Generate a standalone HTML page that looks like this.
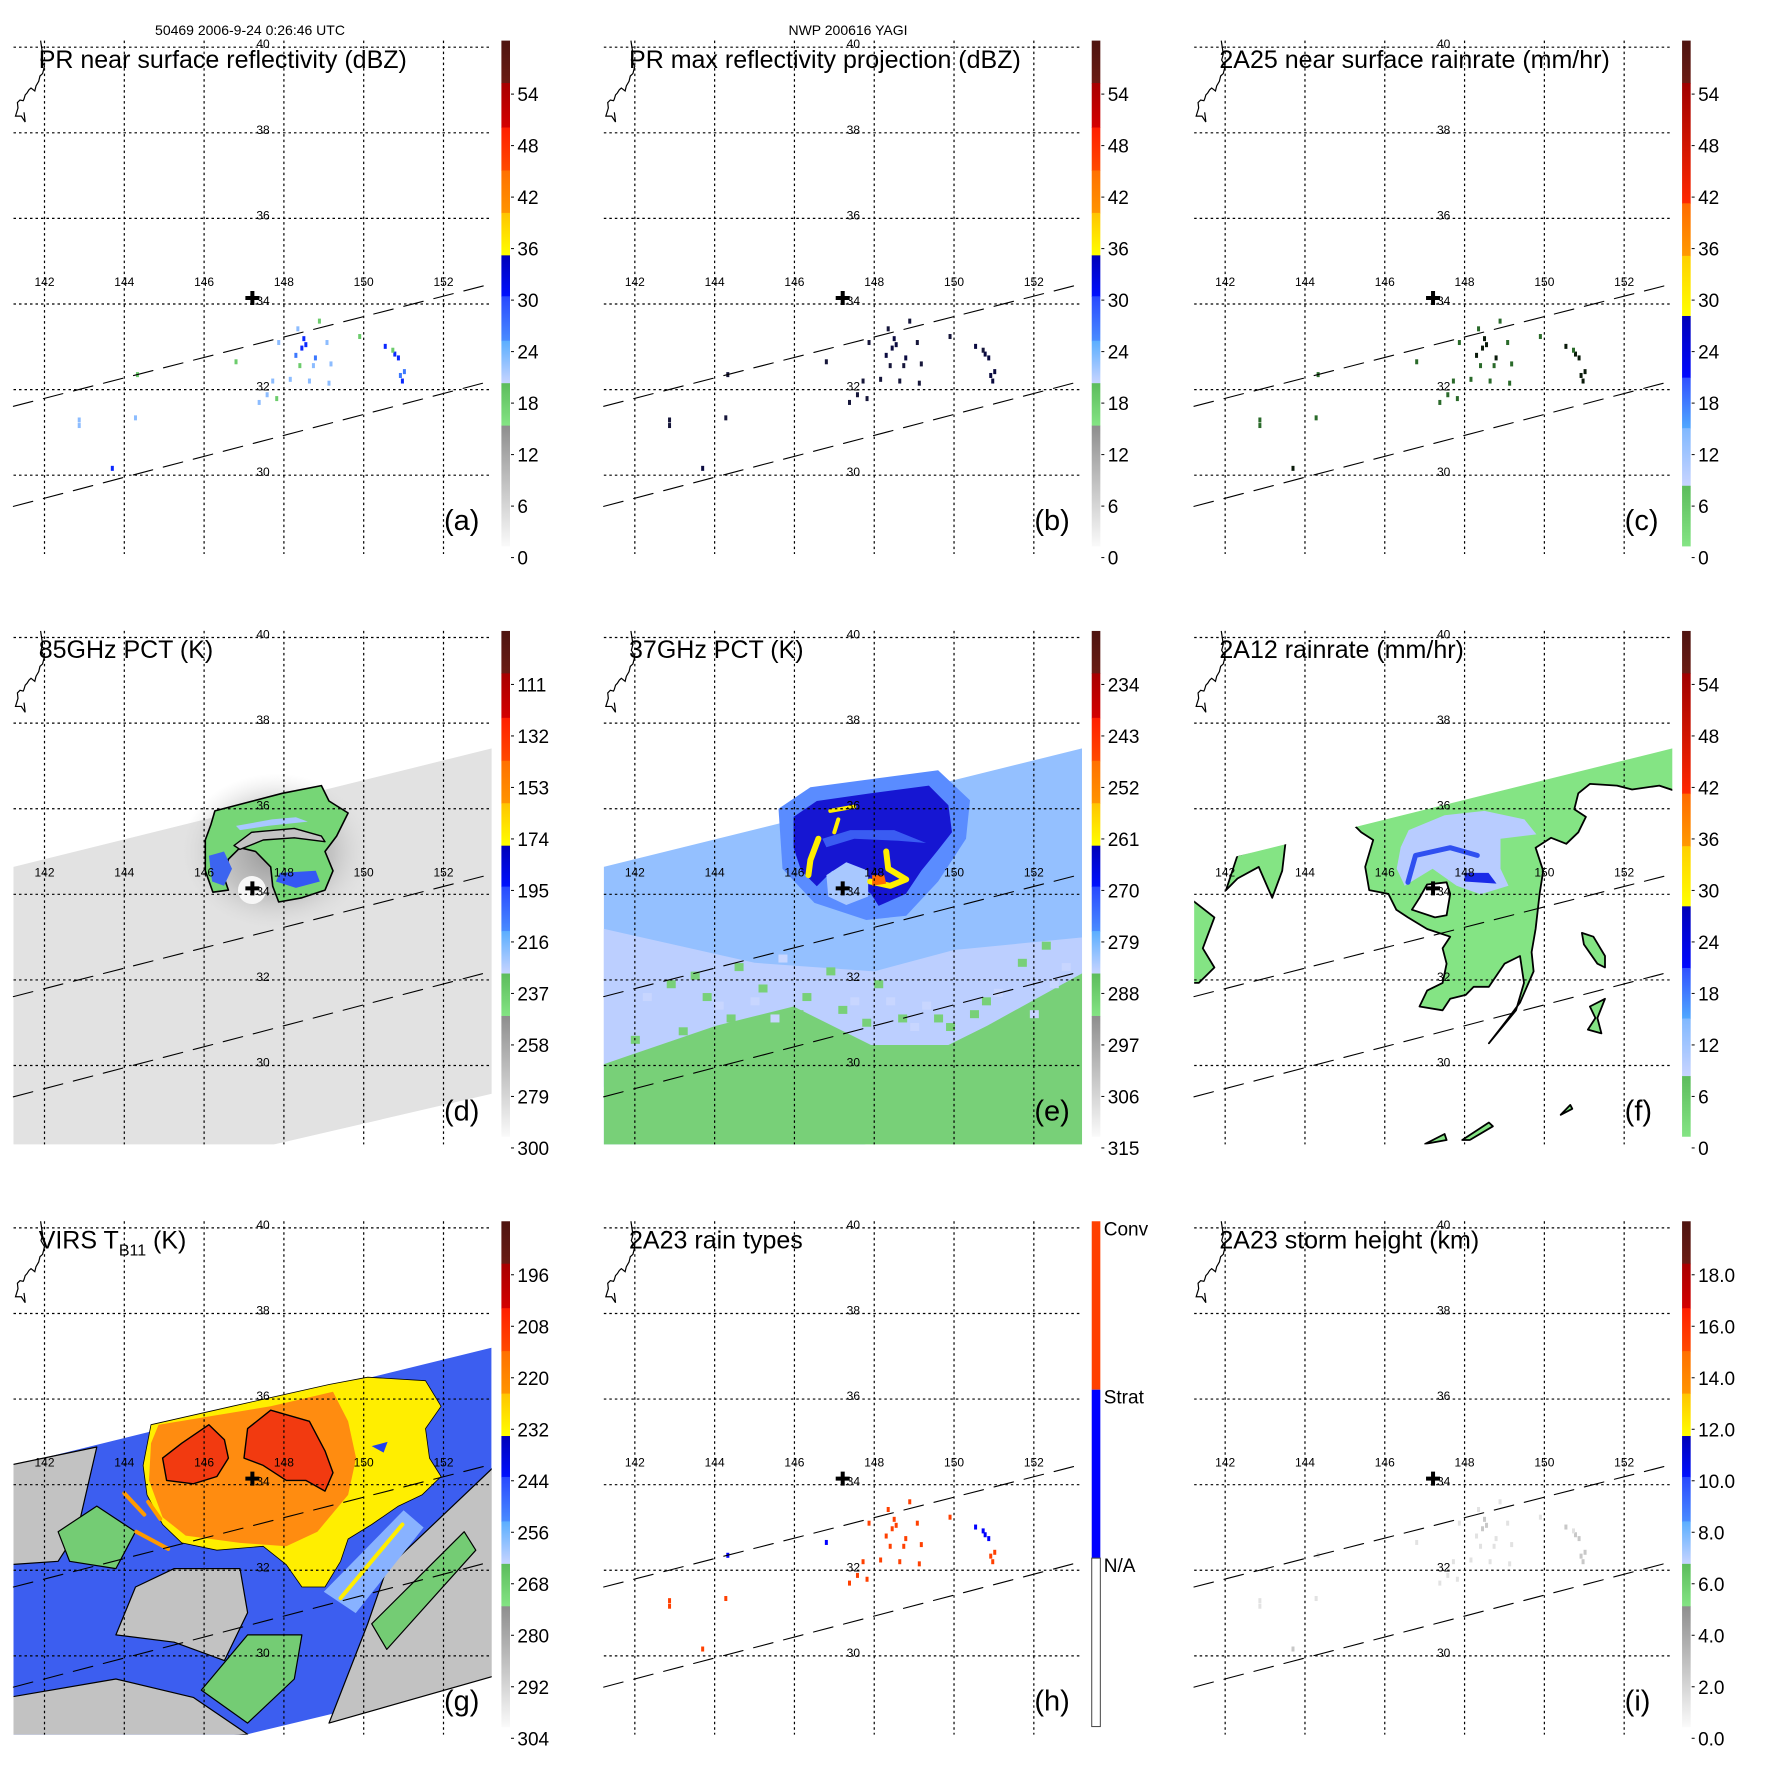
<!DOCTYPE html>
<html><head><meta charset="utf-8"><title>TRMM YAGI 2006-9-24</title>
<style>html,body{margin:0;padding:0;background:#fff}svg{display:block}text{font-family:"Liberation Sans",Arial,sans-serif}</style>
</head><body>
<svg id="fig" xmlns="http://www.w3.org/2000/svg" width="1771" height="1771" viewBox="0 0 1771 1771">
<defs>
<radialGradient id="halo" cx="0.5" cy="0.5" r="0.5"><stop offset="0" stop-color="#8a8a8a" stop-opacity="0.9"/><stop offset="0.6" stop-color="#b0b0b0" stop-opacity="0.6"/><stop offset="1" stop-color="#d8d8d8" stop-opacity="0"/></radialGradient>
</defs>
<text x="250" y="35" font-size="14" text-anchor="middle">50469 2006-9-24 0:26:46 UTC</text>
<text x="848" y="35" font-size="14" text-anchor="middle">NWP 200616 YAGI</text>
</svg>
<script>
// ---------- data ----------
const lonTicks=[142,144,146,148,150,152];
const latTicks=[40,38,36,34,32,30];
const centerLon=147.21, centerLat=34.14;
const prEdgeUpper=[[141.22,31.61],[153.07,34.44]];
const prEdgeLower=[[141.22,29.27],[153.07,32.17]];
const cbLabels_a=["54","48","42","36","30","24","18","12","6","0"];
const cbLabels_b=["54","48","42","36","30","24","18","12","6","0"];
const cbLabels_c=["54","48","42","36","30","24","18","12","6","0"];
const cbLabels_d=["111","132","153","174","195","216","237","258","279","300"];
const cbLabels_e=["234","243","252","261","270","279","288","297","306","315"];
const cbLabels_f=["54","48","42","36","30","24","18","12","6","0"];
const cbLabels_g=["196","208","220","232","244","256","268","280","292","304"];
const cbLabels_h=["Conv","Strat","N/A"];
const cbLabels_i=["18.0","16.0","14.0","12.0","10.0","8.0","6.0","4.0","2.0","0.0"];
const titles=["PR near surface reflectivity (dBZ)","PR max reflectivity projection (dBZ)","2A25 near surface rainrate (mm/hr)","85GHz PCT (K)","37GHz PCT (K)","2A12 rainrate (mm/hr)","VIRS T","2A23 rain types","2A23 storm height (km)"];
const letters=["(a)","(b)","(c)","(d)","(e)","(f)","(g)","(h)","(i)"];
// PR pixels
const rainLon=[148.35,148.50,148.45,147.87,148.79,148.74,148.64,148.16,149.08,149.13,150.54,150.78,150.87,150.92,151.02,150.97,142.87,142.87,144.28,143.70,147.58,147.38,147.72,149.18,148.89,149.90,146.80,144.33,148.40,147.82,150.73,148.55,148.30];
const rainLat=[33.42,33.19,32.97,33.10,32.74,32.56,32.20,32.24,33.10,32.15,33.01,32.83,32.74,32.33,32.42,32.20,31.29,31.16,31.34,30.16,31.88,31.70,32.20,32.60,33.60,33.24,32.65,32.35,32.56,31.79,32.92,33.05,32.80];
const rainDbz=[23,31,31,22,26,25,24,23,22,21,31,30,30,28,28,31,24,24,22,31,21,22,22,22,18,18,18,18,18,18,18,30,26];
const rainType=[1,1,1,1,1,1,1,1,1,1,2,2,2,1,1,1,1,1,1,1,1,1,1,1,1,1,2,2,1,1,2,1,1];
// swaths
const pmiSwath=[[141.22,34.64],[153.21,37.41],[153.21,29.34],[147.68,28.14],[141.22,27.6]];
const virsSwath=[[141.22,34.45],[153.2,37.2],[153.2,29.54],[147.09,28.17],[141.22,27.6]];
// panel d (85GHz)
const d_green=[[146.27,35.95],[147.96,36.36],[148.94,36.54],[149.13,36.18],[149.61,35.90],[149.32,35.36],[149.03,35.00],[149.23,34.55],[149.03,34.10],[148.45,33.92],[147.87,33.82],[147.72,34.19],[147.67,34.64],[147.29,35.00],[146.90,35.09],[146.61,34.82],[146.51,34.37],[146.61,34.10],[146.22,34.05],[146.03,34.55],[146.03,35.27],[146.17,35.63]];
const d_gap=[[146.75,35.14],[147.19,35.45],[148.26,35.54],[148.94,35.36],[149.03,35.23],[148.26,35.32],[147.48,35.27],[146.90,35.05]];
const d_blueL=[[146.12,34.9],[146.5,35.0],[146.7,34.6],[146.5,34.2],[146.2,34.3]];
const d_blueR=[[147.9,34.5],[148.8,34.55],[148.9,34.3],[148.3,34.15],[147.8,34.3]];
const d_lblue=[[146.8,35.6],[147.7,35.75],[148.3,35.8],[148.6,35.7],[147.6,35.6],[146.9,35.5]];
// panel e (37GHz)
const e_lav=[[141.2,33.2],[145,32.4],[148,32.2],[150,32.7],[153.3,33.0],[153.3,30.5],[141.2,29.5]];
const e_green=[[141.22,30.03],[144.04,30.93],[145.98,31.38],[147.92,30.48],[149.86,30.48],[150.83,30.93],[153.3,32.2],[153.3,27],[141.22,27]];
const e_mid=[[145.6,36.0],[146.4,36.5],[149.6,36.9],[150.4,36.2],[150.3,35.3],[149.6,34.3],[148.8,33.5],[147.8,33.4],[146.5,33.8],[145.7,34.6]];
const e_dark=[[145.98,35.81],[146.56,36.18],[147.92,36.36],[149.37,36.54],[149.86,36.08],[149.95,35.45],[149.57,35.00],[149.18,34.55],[148.79,34.01],[148.11,33.73],[147.92,34.01],[147.43,34.37],[146.95,34.55],[146.56,34.19],[146.17,34.55],[145.98,35.09]];
const e_band=[[146.7,35.3],[147.4,35.5],[148.5,35.5],[149.3,35.2],[148.6,35.25],[147.5,35.3],[146.8,35.1]];
const e_eye=[[146.8,34.45],[147.3,34.75],[147.85,34.55],[147.85,33.95],[147.3,33.75],[146.85,33.95]];
const e_yel1=[[146.6,35.3],[146.4,34.8],[146.35,34.45]];
const e_yel2=[[148.3,35.0],[148.35,34.6],[148.8,34.35],[148.4,34.2],[147.9,34.3]];
const e_yel3=[[146.9,35.95],[147.5,36.05]];
const e_yel4=[[147.1,35.75],[147.0,35.45]];
const e_hot=[[147.95,34.45],[148.25,34.45],[148.3,34.25],[147.95,34.2]];
const e_speckLon=[142.3,142.9,143.5,144.1,144.6,145.2,145.7,146.3,146.9,147.5,148.1,148.7,149.3,149.9,150.5,151.1,151.7,152.3,152.8,143.2,144.4,145.5,146.6,147.8,149.0,150.2,151.4,152.5,142.0,143.8,145.0,146.1,147.2,148.4,149.6,150.8,152.0];
const e_speckLat=[31.6,31.9,32.1,31.4,32.3,31.8,32.5,31.6,32.2,31.5,31.9,31.1,31.4,30.9,31.2,31.7,32.4,32.8,32.3,30.8,31.1,31.1,30.9,31.0,30.9,30.3,30.7,31.9,30.6,31.6,31.5,31.2,31.3,31.5,31.1,31.5,31.2];
// panel f (2A12)
const f_main=[[146.19,36.9],[153.46,37.71],[153.46,36.36],[152.88,36.54],[152.20,36.45],[151.82,36.54],[151.14,36.58],[150.85,36.36],[150.75,35.99],[151.04,35.81],[150.85,35.45],[150.55,35.18],[150.17,35.32],[149.78,35.09],[149.97,34.55],[149.88,34.01],[149.78,33.19],[149.68,32.65],[149.73,32.20],[149.39,31.47],[149.10,31.11],[148.61,30.52],[149.29,31.29],[149.49,31.93],[149.39,32.56],[149.00,32.38],[148.61,31.84],[148.23,31.84],[148.03,31.65],[147.64,31.56],[147.45,31.29],[146.87,31.38],[147.06,31.75],[147.45,31.93],[147.55,32.38],[147.45,32.74],[147.64,33.01],[147.06,33.19],[146.58,33.46],[146.29,33.64],[146.09,34.01],[145.61,34.10],[145.51,34.64],[145.71,35.27],[145.41,35.45],[145.22,35.63],[145.71,35.81],[146.00,35.95]];
const f_eye=[[147.06,34.23],[147.55,34.28],[147.64,34.01],[147.55,33.51],[147.26,33.46],[146.68,33.64],[146.87,33.92]];
const f_blobs=[
 [[142.31,34.91],[142.99,35.09],[143.52,35.27],[143.43,34.55],[143.18,33.92],[142.84,34.64],[142.31,34.37],[142.02,34.10]],
 [[141.1,33.92],[141.73,33.46],[141.44,32.74],[141.73,32.29],[141.34,31.93],[141.1,31.93]],
 [[150.94,33.10],[151.23,33.01],[151.52,32.56],[151.52,32.29],[151.33,32.38],[150.99,32.83]],
 [[151.14,31.38],[151.52,31.56],[151.33,31.11],[151.43,30.75],[151.09,30.84],[151.28,31.11]],
 [[147.94,28.26],[148.61,28.67],[148.71,28.58],[148.13,28.26]],
 [[147.01,28.17],[147.50,28.40],[147.55,28.26]],
 [[150.41,28.85],[150.65,29.08],[150.70,28.99]]];
const f_lblue=[[146.6,35.5],[147.5,35.85],[148.5,35.95],[149.5,35.75],[149.8,35.4],[148.9,35.3],[148.9,34.6],[149.1,34.2],[148.4,34.0],[147.8,34.2],[147.2,34.6],[146.5,34.2],[146.3,34.6],[146.4,35.1]];
const f_blueArc=[[146.58,34.28],[146.77,34.91],[147.64,35.09],[148.32,34.91]];
const f_dark=[[148.0,34.5],[148.6,34.5],[148.8,34.25],[148.0,34.3]];
// panel g (VIRS)
const g_greyW=[[141.1,34.45],[143.31,34.88],[142.82,32.90],[142.34,32.21],[141.1,32.13]];
const g_greyC=[[145.25,32.04],[146.90,32.04],[147.09,31.01],[146.51,29.89],[145.25,30.32],[143.79,30.49],[144.28,31.61]];
const g_greyB=[[141.1,29.03],[143.79,29.46],[145.73,29.03],[147.09,28.17],[141.1,27.6]];
const g_greySE=[[150.58,32.04],[153.3,34.45],[153.3,29.54],[149.13,28.43],[150.10,30.75]];
const g_green1=[[145.93,29.20],[147.09,30.49],[148.45,30.49],[148.26,29.46],[147.09,28.43]];
const g_green2=[[142.34,32.90],[143.31,33.50],[144.28,32.90],[143.79,32.04],[142.63,32.21]];
const g_green3=[[150.20,30.75],[152.52,32.90],[152.81,32.47],[150.58,30.15]];
const g_lblue=[[149.0,31.5],[151.0,33.4],[151.5,33.0],[149.8,31.0]];
const g_yellow=[[144.67,35.40],[146.70,35.83],[149.13,36.34],[150.10,36.51],[151.55,36.43],[151.94,35.83],[151.55,35.31],[151.65,34.62],[151.94,34.19],[151.46,33.76],[150.87,33.50],[150.20,33.07],[149.61,32.73],[149.42,32.21],[149.03,31.61],[148.45,31.61],[148.06,32.13],[147.48,32.56],[146.32,32.47],[145.44,32.64],[144.96,33.07],[144.57,33.76],[144.47,34.45]];
const g_orange=[[144.86,35.40],[147.67,35.83],[149.23,36.17],[149.61,35.48],[149.81,34.62],[149.61,33.76],[148.84,32.90],[148.06,32.56],[146.90,32.64],[145.54,32.81],[144.96,33.24],[144.62,34.10],[144.67,34.97]];
const g_redL=[[144.96,34.62],[145.44,34.97],[146.12,35.40],[146.51,35.05],[146.61,34.62],[146.32,34.19],[145.73,34.02],[145.06,34.10]];
const g_redR=[[147.09,35.31],[147.67,35.74],[148.64,35.48],[149.03,34.79],[149.23,34.28],[149.03,33.85],[148.55,34.10],[148.06,34.10],[147.48,34.45],[147.00,34.62]];
const g_streaks=[[[144.0,33.8],[144.5,33.3]],[[144.3,32.9],[145.1,32.5]],[[144.6,33.6],[144.9,33.2]],[[150.97,33.07],[149.42,31.35]]];
const g_hole=[[150.2,34.9],[150.6,35.0],[150.5,34.75]];
// colour bar bands
const bandsA=[["#4e1410","#6a1c14",0,.084],["#a80000","#d40000",.084,.172],["#ff1e00","#ff4a00",.172,.257],["#ff7000","#ff9400",.257,.341],["#ffc400","#ffff00",.341,.425],["#0000b8","#0010ff",.425,.506],["#2848ff","#4a8cff",.506,.594],["#5aaeff","#c8d4ff",.594,.678],["#5cbc5c","#84e484",.678,.762],["#8e8e8e","#fafafa",.762,1]];
const bandsC=[["#4e1410","#6a1c14",0,.084],["#a00000","#ff2800",.084,.322],["#ff6a00","#ff9a00",.322,.426],["#ffd000","#ffff00",.426,.545],["#0000b8","#0008ff",.545,.667],["#3050ff","#50a8ff",.667,.767],["#80b8ff","#c8d4ff",.767,.881],["#5cbc5c","#84e484",.881,1]];

// ---------- helpers ----------
const NS="http://www.w3.org/2000/svg";
const svg=document.getElementById('fig');
const P=1771/3;
function X(c,lon){return c*P+44.5+(lon-142)*39.9;}
function Y(r,lat){return r*P+47.2+(40-lat)*42.8;}
function mk(tag,attrs,parent){const e=document.createElementNS(NS,tag);for(const k in attrs)e.setAttribute(k,attrs[k]);(parent||svg).appendChild(e);return e;}
function ptsStr(c,r,arr){return arr.map(p=>X(c,p[0]).toFixed(1)+","+Y(r,p[1]).toFixed(1)).join(" ");}
function poly(g,c,r,arr,fill,stroke,sw,name){const e=mk('polygon',{points:ptsStr(c,r,arr),fill:fill,stroke:stroke||'none','stroke-width':sw||0,'stroke-linejoin':'round'},g);

return e;}
function line(g,c,r,arr,stroke,sw,name,dash){const e=mk('polyline',{points:ptsStr(c,r,arr),fill:'none',stroke:stroke,'stroke-width':sw,'stroke-linecap':'round','stroke-linejoin':'round'},g);if(dash)e.setAttribute('stroke-dasharray',dash);

return e;}
function dbzColor(v){if(v>=30)return"#0a28ff";if(v>=26)return"#3c78ff";if(v>=21)return"#8cbcff";return"#6ccc6c";}

const panelIds="abcdefghi";
const bands={a:bandsA,b:bandsA,c:bandsC,d:bandsA,e:bandsA,f:bandsC,g:bandsA,i:bandsA};
const labelsBy={a:cbLabels_a,b:cbLabels_b,c:cbLabels_c,d:cbLabels_d,e:cbLabels_e,f:cbLabels_f,g:cbLabels_g,i:cbLabels_i};

for(let k=0;k<9;k++){
 const c=k%3, r=Math.floor(k/3), id=panelIds[k];
 const ox=c*P, oy=r*P;
 const g=mk('g',{});
 
 
 const cp=mk('clipPath',{id:'clip'+id},svg);
 mk('rect',{x:ox+13.5,y:oy+40.6,width:478.2,height:513.4},cp);
 const map=mk('g',{'clip-path':'url(#clip'+id+')'},g);
 
 

 if(id==='d'){
  poly(map,c,r,pmiSwath,'#e2e2e2','none',0,'swath-85ghz');
  const h=mk('ellipse',{cx:X(c,147.8),cy:Y(r,35.0),rx:95,ry:78,fill:'url(#halo)'},map);
  
  
  poly(map,c,r,d_green,'#76d676','#000',1.6,'green-rainband');
  poly(map,c,r,d_gap,'#c4c4c4','#000',1.4,'contour-gap');
  poly(map,c,r,d_lblue,'#a8c8ff','none',0,'light-blue-patch');
  poly(map,c,r,d_blueL,'#3c64f0','none',0,'blue-patch-west');
  poly(map,c,r,d_blueR,'#3458f4','none',0,'blue-patch-east');
  const ey=mk('circle',{cx:X(c,147.2),cy:Y(r,34.1),r:14,fill:'#f6f6f6'},map);
  
  
 }
 if(id==='e'){
  poly(map,c,r,pmiSwath,'#94c0ff','none',0,'swath-37ghz');
  poly(map,c,r,e_lav,'#bccfff','none',0,'lavender-band');
  poly(map,c,r,e_green,'#78d078','none',0,'green-warm-area');
  for(let i=0;i<e_speckLon.length;i++){
   const s=mk('rect',{x:X(c,e_speckLon[i])-4,y:Y(r,e_speckLat[i])-4,width:9,height:8,fill:(i%3===0?'#c8d6ff':'#78d078')},map);
   
   
  }
  poly(map,c,r,e_mid,'#5a8cff','none',0,'mid-blue-ring');
  poly(map,c,r,e_dark,'#1616d2','none',0,'dark-blue-core');
  poly(map,c,r,e_band,'#3a5cf2','none',0,'inner-band');
  poly(map,c,r,e_eye,'#a8c8ff','none',0,'eye-area');
  line(map,c,r,e_yel1,'#ffee00',6,'yellow-arc-west');
  line(map,c,r,e_yel2,'#ffee00',6,'yellow-arc-east');
  line(map,c,r,e_yel3,'#ffee00',4,'yellow-bit-1');
  line(map,c,r,e_yel4,'#ffee00',4,'yellow-bit-2');
  poly(map,c,r,e_hot,'#ff6a00','none',0,'orange-core');
 }
 if(id==='f'){
  const cpf=mk('clipPath',{id:'swf'},svg);
  mk('polygon',{points:ptsStr(c,r,pmiSwath)},cpf);
  const sg=mk('g',{'clip-path':'url(#swf)'},map);
  
  
  poly(sg,c,r,f_main,'#84e484','#000',1.8,'rain-area-main');
  poly(sg,c,r,f_lblue,'#b8ccff','none',0,'light-rain-blue');
  line(sg,c,r,f_blueArc,'#3050f0',5,'blue-arc');
  poly(sg,c,r,f_dark,'#1a2ae8','none',0,'heavy-rain');
  poly(sg,c,r,f_eye,'#ffffff','#000',1.8,'eye-hole');
  f_blobs.forEach((b,i)=>poly(sg,c,r,b,'#84e484','#000',1.8,'rain-blob-'+i));
 }
 if(id==='g'){
  poly(map,c,r,virsSwath,'#3c5ef0','none',0,'swath-virs');
  [g_greyW,g_greyC,g_greyB,g_greySE].forEach((p,i)=>poly(map,c,r,p,'#c2c2c2','#000',1.2,'clear-area-'+i));
  [g_green1,g_green2,g_green3].forEach((p,i)=>poly(map,c,r,p,'#74cc74','#000',1.2,'green-cloud-'+i));
  poly(map,c,r,g_lblue,'#88b2ff','none',0,'light-blue-cloud');
  poly(map,c,r,g_yellow,'#ffee00','#000',0.8,'cloud-shield-yellow');
  poly(map,c,r,g_orange,'#ff8c10','none',0,'cloud-shield-orange');
  poly(map,c,r,g_redL,'#f23a10','#000',1.4,'cold-top-west');
  poly(map,c,r,g_redR,'#f23a10','#000',1.4,'cold-top-east');
  poly(map,c,r,g_hole,'#2040f0','none',0,'warm-hole');
  g_streaks.forEach((s,i)=>line(map,c,r,s,i<3?'#ff9a00':'#ffee00',4,'streak-'+i));
 }
 if('abchi'.includes(id)){
  for(let i=0;i<rainLon.length;i++){
   let col;
   if(id==='a')col=dbzColor(rainDbz[i]);
   else if(id==='b')col=rainDbz[i]>=26?'#0a0a40':'#16163a';
   else if(id==='c')col=rainDbz[i]>=26?'#0a1a0a':'#2a6a2a';
   else if(id==='h')col=rainType[i]===2?'#0000ff':'#ff4000';
   else col=rainDbz[i]>=28?'#c8c8c8':'#e2e2e2';
   const p=mk('rect',{x:X(c,rainLon[i])-1.5,y:Y(r,rainLat[i])-2.5,width:3,height:5,fill:col},map);
   
   
  }
 }
 lonTicks.forEach(lon=>{const e=mk('line',{x1:X(c,lon),y1:oy+40.6,x2:X(c,lon),y2:oy+554,stroke:'#000','stroke-width':1.2,'stroke-dasharray':'2.5 3'},g);
  
  
  const t=mk('text',{x:X(c,lon),y:oy+286,'font-size':12,'text-anchor':'middle'},g);t.textContent=lon;
  
  });
 latTicks.forEach(lat=>{const e=mk('line',{x1:ox+13.5,y1:Y(r,lat),x2:ox+491.7,y2:Y(r,lat),stroke:'#000','stroke-width':1.2,'stroke-dasharray':'2.5 3'},g);
  
  
  const t=mk('text',{x:ox+263,y:Y(r,lat)+1,'font-size':12,'text-anchor':'middle'},g);t.textContent=lat;
  
  });
 line(g,c,r,prEdgeUpper,'#000',1.1,'pr-swath-edge-upper','20 11');
 line(g,c,r,prEdgeLower,'#000',1.1,'pr-swath-edge-lower','20 11');
 const cl=[[40.6,40.6],[42.6,54],[41,60],[44.5,66],[42.6,73.6],[40,76],[38.7,81.3],[36,86],[34.8,91],[31,88],[29,89.8],[27,93],[25.2,94.9],[24,99],[23.2,100.7],[20,100],[17.4,102.6],[18,108],[15.5,116.1],[21.3,116.1],[25.2,122],[24,112.3]];
 const cpth=mk('polyline',{points:cl.map(p=>(ox+p[0])+','+(oy+p[1])).join(' '),fill:'none',stroke:'#000','stroke-width':1.2},g);
 
 
 const cx=X(c,centerLon), cy=Y(r,centerLat);
 const cr=mk('path',{d:`M${cx-7},${cy-2}h14v4h-14zM${cx-2},${cy-7}h4v14h-4z`,fill:'#000'},g);
 
 
 const tt=mk('text',{x:ox+38.7,y:oy+67.8,'font-size':25},g);
 
 
 if(id==='g'){tt.textContent=titles[k];const ts=mk('tspan',{'font-size':16,dy:7},tt);ts.textContent='B11';const t2=mk('tspan',{dy:-7,'font-size':25},tt);t2.textContent=' (K)';}
 else tt.textContent=titles[k];
 const lt=mk('text',{x:ox+444,y:oy+530,'font-size':29},g);lt.textContent=letters[k];
 
 
 const bx=ox+501.4, by=oy+40.6, bw=8.6, bh=505.3;
 const cb=mk('g',{},g);
 
 
 if(id==='h'){
  const cols=['#ff4000','#0000ff','#ffffff'];
  cols.forEach((cc,i)=>{const e=mk('rect',{x:bx,y:by+i*bh/3,width:bw,height:bh/3,fill:cc,stroke:i===2?'#444':'none','stroke-width':1},cb);
   
   });
  cbLabels_h.forEach((s,i)=>{const t=mk('text',{x:bx+12,y:by+i*bh/3+14,'font-size':19},cb);t.textContent=s;
   
   });
 } else {
  bands[id].forEach((b,i)=>{
   const gid='gr'+id+i;
   const lg=mk('linearGradient',{id:gid,x1:0,y1:0,x2:0,y2:1},svg);
   mk('stop',{offset:0,'stop-color':b[0]},lg);mk('stop',{offset:1,'stop-color':b[1]},lg);
   const e=mk('rect',{x:bx,y:by+b[2]*bh,width:bw,height:(b[3]-b[2])*bh+0.5,fill:'url(#'+gid+')'},cb);
   
   
  });
  labelsBy[id].forEach((s,i)=>{
   const yy=oy+94.1+i*51.5;
   const tk=mk('line',{x1:bx+bw+1,y1:yy,x2:bx+bw+4,y2:yy,stroke:'#000','stroke-width':1},cb);
   
   
   const t=mk('text',{x:bx+16,y:yy+7,'font-size':19},cb);t.textContent=s;
   
   
  });
 }
}
</script>
</body></html>
